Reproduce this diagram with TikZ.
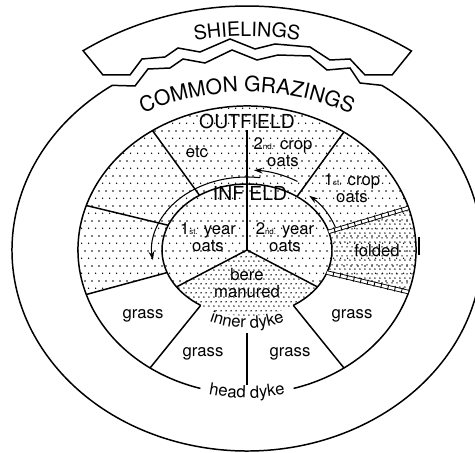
\documentclass[tikz,border=0pt]{standalone}
\usepackage{fontspec}
\setmainfont{TeX Gyre Heros}
\usetikzlibrary{arrows.meta, decorations.text, decorations.pathreplacing, patterns}

\pgfdeclarepatternformonly{sparsedots}{\pgfpointorigin}{\pgfpoint{4.2pt}{8.4pt}}{\pgfpoint{4.2pt}{8.4pt}}{%
  \pgfpathcircle{\pgfpoint{1pt}{1pt}}{0.5pt}%
  \pgfpathcircle{\pgfpoint{3.1pt}{5.2pt}}{0.5pt}%
  \pgfusepath{fill}}
\pgfdeclarepatternformonly{densedots}{\pgfpointorigin}{\pgfpoint{2.6pt}{5.2pt}}{\pgfpoint{2.6pt}{5.2pt}}{%
  \pgfpathcircle{\pgfpoint{0.6pt}{0.6pt}}{0.47pt}%
  \pgfpathcircle{\pgfpoint{1.9pt}{3.2pt}}{0.47pt}%
  \pgfusepath{fill}}

\newcommand{\ord}[1]{{\fontsize{4.5}{5}\selectfont #1}}
\newcommand{\areafont}{\fontsize{12}{14}\selectfont}
\newcommand{\dykefont}{\fontsize{9.5}{10}\selectfont}

\begin{document}
\begin{tikzpicture}[
    x=0.02cm, y=0.02cm,
    dyke/.style={line width=0.85pt},
    fence/.style={double, double distance=1.5pt, line width=0.5pt},
    rails/.style={line width=0.5pt, decorate, decoration={ticks, segment length=4pt, amplitude=1.5pt}},
    move/.style={line width=0.6pt, -{Stealth[length=5pt, width=3.2pt]}},
    crop/.style={font=\dykefont, align=center, inner sep=1pt},
    field/.style={font=\fontsize{11}{12}\selectfont, inner sep=1pt}
]
\useasboundingbox (-247,-202) rectangle (228,250);

% Stippled fields
\fill[pattern=sparsedots] (-17:169 and 144) arc[start angle=-17, end angle=198, x radius=169, y radius=144]
  -- (200:85 and 66) arc[start angle=200, end angle=-20, x radius=85, y radius=66] -- cycle;
\fill[pattern=densedots] (-17:169 and 144) arc[start angle=-17, end angle=17, x radius=169, y radius=144]
  -- (16:85 and 66) arc[start angle=16, end angle=-20, x radius=85, y radius=66] -- cycle;
\fill[pattern=sparsedots] (0,0) ellipse[x radius=85, y radius=66];
\fill[white] (0,0) -- (214:85 and 66) arc[start angle=214, end angle=326, x radius=85, y radius=66] -- cycle;
\fill[pattern=densedots] (0,0) -- (214:85 and 66) arc[start angle=214, end angle=326, x radius=85, y radius=66] -- cycle;

% Shielings
\draw[dyke] (0,-79) ++(120.5:323) arc[start angle=120.5, end angle=59.4, radius=323]
  -- (145,175) -- (118,175) -- (103,191) -- (83,190) -- (63,203) -- (28,206) -- (8,201)
  -- (-17,211) -- (-47,198) -- (-69,202) -- (-82,193) -- (-105,191) -- (-117,175) -- (-144,175) -- cycle;
\path[decorate, decoration={text along path, text align=center, text={|\fontsize{11.2}{12}\selectfont|SHIELINGS}}]
  (0,-79) ++(101:293) arc[start angle=101, end angle=79, radius=293];

% Common grazings
\draw[dyke] (125:235 and 201) arc[start angle=125, end angle=415, x radius=235, y radius=201];
\draw[dyke] (125:235 and 201) -- (-112,164) -- (-99,181) -- (-77,182) -- (-64,191) -- (-42,187) -- (-15,200)
  -- (10,190) -- (31,195) -- (63,194) -- (80,180) -- (103,182) -- (113,167) -- (55:235 and 201);
\path[decorate, decoration={text along path, text align=center, text={|\areafont|COMMON GRAZINGS}}]
  (0,-102) ++(116:260) arc[start angle=116, end angle=64, radius=260];

% Head dyke and inner dyke
\draw[dyke] (286:169 and 144) arc[start angle=286, end angle=614, x radius=169, y radius=144];
\draw[dyke] (303:85 and 66) arc[start angle=303, end angle=597, x radius=85, y radius=66];
\path[decorate, decoration={text along path, text align=center, text={|\dykefont|head dyke}}]
  (0,50) ++(252:198) arc[start angle=252, end angle=288, radius=198];
\path[decorate, decoration={text along path, text align=center, text={|\dykefont|inner dyke}}]
  (0,31) ++(240:109) arc[start angle=240, end angle=300, radius=109];

% Field names
\node[field] (outfield) at (0,129) {OUTFIELD};
\node[field] (infield) at (3,57) {INFIELD};

% Outfield divisions
\draw[dyke] (outfield.south) -- (0,0);
\draw[dyke] (124:169 and 144) -- (124:85 and 66);
\draw[dyke] (55:169 and 144) -- (54:85 and 66);
\draw[dyke] (162:169 and 144) -- (158:85 and 66);
\draw[dyke] (198:169 and 144) -- (200:85 and 66);
\draw[dyke] (235:169 and 144) -- (237:85 and 66);
\draw[dyke] (305:169 and 144) -- (303:85 and 66);
\draw[dyke] (0,-83) -- (0,-135);

% Folded
\coordinate (f1) at (17:169 and 144);
\coordinate (f2) at (16:85 and 66);
\coordinate (f3) at (-17:169 and 144);
\coordinate (f4) at (-20:85 and 66);
\draw[fence] (f1) -- (f2);
\draw[rails] (f1) -- (f2);
\draw[fence] (f3) -- (f4);
\draw[rails] (f3) -- (f4);
\draw[line width=1pt] (172,13) -- (172,-5);

% Infield divisions
\draw[dyke] (0,0) -- (214:85 and 66);
\draw[dyke] (0,0) -- (326:85 and 66);

% Rotation
\draw[move] (18:93 and 73) arc[start angle=18, end angle=48, x radius=93, y radius=73];
\draw[move] (59:98 and 80) arc[start angle=59, end angle=86, x radius=98, y radius=80];
\draw[move] (82:95 and 73) arc[start angle=82, end angle=188, x radius=95, y radius=73];

% Crops
\node[crop] (etc) at (-50,98) {etc};
\node[crop] (crop2) at (36,98) {2\ord{nd.} crop\\oats};
\node[crop] (crop1) at (105,62) {1\ord{st.} crop\\oats};
\node[crop] (folded) at (130,-1) {folded};
\node[crop] (year1) at (-39,13) {1\ord{st.} year\\oats};
\node[crop] (year2) at (38,13) {2\ord{nd.} year\\oats};
\node[crop] (bere) at (0,-33) {bere\\manured};
\node[crop] (grassW) at (-104,-66) {grass};
\node[crop] (grassE) at (105,-66) {grass};
\node[crop] (grassSW) at (-44,-104) {grass};
\node[crop] (grassSE) at (43,-104) {grass};

\end{tikzpicture}
\end{document}
